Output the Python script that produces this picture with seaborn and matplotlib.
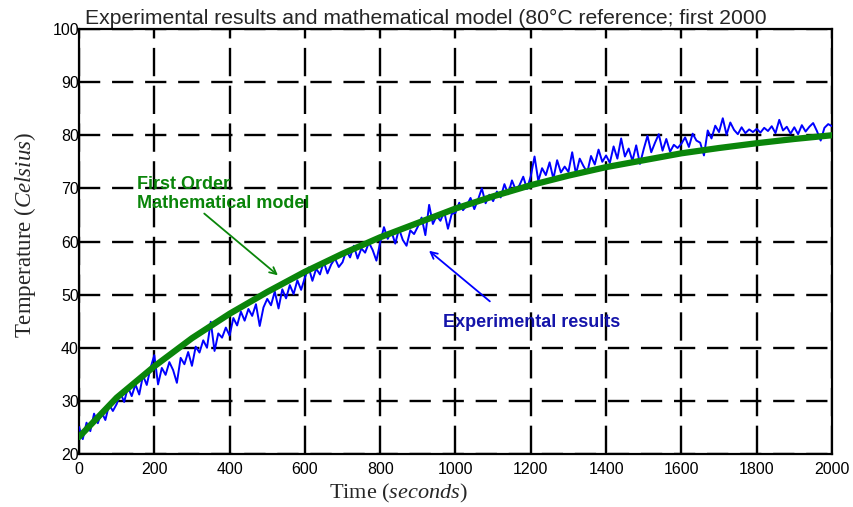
import numpy as np
import pandas as pd
import matplotlib
matplotlib.use("Agg")
from matplotlib import pyplot as plt
import seaborn as sns

# model curve, read every 100 s
model_time = list(range(0, 2001, 100))
model_temp = [23.2, 30.6, 36.5, 41.8, 46.4, 50.5, 54.3, 57.7, 60.8, 63.5, 66.2,
              68.5, 70.6, 72.4, 74.0, 75.3, 76.6, 77.6, 78.5, 79.3, 80.0]

# experimental trace, read every 10 s
exp_time = list(range(0, 2001, 10))
exp_temp = [
    25.1, 22.8, 25.9, 24.3, 27.6, 25.8, 27.9, 26.4, 29.3, 28.1,
    29.4, 31.5, 29.8, 32.6, 30.9, 33.1, 31.2, 34.8, 33.0, 36.2,
    38.6, 33.1, 36.2, 34.9, 37.3, 35.8, 33.4, 38.1, 36.9, 39.2,
    36.6, 40.2, 39.1, 41.4, 40.0, 44.9, 39.4, 42.7, 41.9, 43.8,
    42.3, 45.6, 44.2, 46.8, 45.1, 47.3, 46.0, 48.2, 44.1, 47.6,
    49.2, 48.0, 50.6, 47.4, 51.0, 49.3, 51.8, 50.1, 52.7, 50.9,
    53.2, 55.1, 52.6, 54.9, 53.8, 56.2, 54.0, 55.7, 56.8, 55.2,
    56.1, 58.3, 57.0, 59.2, 56.8, 58.7, 57.9, 59.8, 58.4, 56.4,
    59.8, 62.7, 60.5, 61.9, 59.6, 62.4, 60.3, 59.2, 62.1, 61.4,
    62.8, 64.5, 61.2, 66.9, 63.3, 64.8, 63.9, 65.6, 62.4, 65.2,
    65.4, 67.3, 65.9, 66.8, 68.2, 66.1, 67.9, 70.0, 67.2, 68.8,
    67.6, 69.4, 68.3, 70.8, 68.9, 71.5, 69.7, 70.6, 72.2, 69.9,
    72.3, 76.0, 71.4, 73.8, 72.5, 74.9, 71.8, 75.3, 73.0, 74.1,
    73.1, 76.8, 72.7, 75.6, 74.2, 73.0, 76.1, 74.5, 77.3, 75.0,
    76.2, 74.8, 77.9, 75.6, 79.4, 76.0, 77.5, 75.2, 78.1, 74.6,
    77.4, 79.9, 76.8, 78.6, 80.2, 77.1, 79.3, 76.9, 78.2, 77.6,
    78.4, 79.6, 77.8, 80.3, 79.0, 78.6, 76.2, 80.9, 79.4, 81.8,
    80.6, 83.2, 80.1, 82.4, 81.0, 80.2, 81.5, 80.4, 81.1, 80.6,
    81.2, 80.5, 81.4, 80.8, 81.7, 80.4, 82.9, 80.9, 81.6, 80.3,
    81.5, 80.2, 81.9, 80.7, 81.6, 82.3, 80.8, 79.0, 81.4, 82.1,
    81.7,
]

x_ticks = list(range(0, 2001, 200))
y_ticks = list(range(20, 101, 10))

title_text = "Experimental results and mathematical model (80°C reference; first 2000\nseconds)"

sns.set_style("white")
plt.rcParams["font.family"] = ["Liberation Sans", "DejaVu Sans"]
plt.rcParams["mathtext.fontset"] = "custom"
plt.rcParams["mathtext.rm"] = "Liberation Serif"
plt.rcParams["mathtext.it"] = "Liberation Serif:italic"

exp_df = pd.DataFrame({"time": exp_time, "temp": exp_temp})
model_df = pd.DataFrame({"time": model_time, "temp": model_temp})

fig = plt.figure(figsize=(8.54, 5.07), dpi=100)
ax = fig.add_axes([0.0925, 0.1045, 0.8817, 0.8383])
ax.set_facecolor("white")

sns.lineplot(data=exp_df, x="time", y="temp", color="#0000ff", linewidth=1.4, ax=ax, zorder=3)
sns.lineplot(data=model_df, x="time", y="temp", color="#0a850a", linewidth=4.5, ax=ax, zorder=4)

ax.set_xlim(0, 2000)
ax.set_ylim(20, 100)
ax.set_xticks(x_ticks)
ax.set_yticks(y_ticks)
ax.tick_params(axis="x", length=0, pad=6, labelsize=11.5, colors="black")
ax.tick_params(axis="y", length=0, pad=0, labelsize=11.5, colors="black")

# dashed black grid, longer dashes on the vertical lines
ax.grid(axis="y", color="black", linewidth=1.7, linestyle=(0, (9.0, 5.0)))
ax.grid(axis="x", color="black", linewidth=1.7, linestyle=(0, (12.0, 4.0)))
ax.set_axisbelow(True)
for side in ["left", "right", "top", "bottom"]:
    ax.spines[side].set_visible(True)
    ax.spines[side].set_color("black")
    ax.spines[side].set_linewidth(1.6)

ax.set_xlabel(r"Time ($\mathit{seconds}$)", family="Liberation Serif", fontsize=16)
ax.set_ylabel(r"Temperature ($\mathit{Celsius}$)", family="Liberation Serif", fontsize=16.5)
# labels sit a bit off-centre in the original
ax.xaxis.set_label_coords(0.4236, -0.066)
ax.yaxis.set_label_coords(-0.054, 0.515)

ax.annotate("", xy=(534, 53.3), xytext=(327, 65.6),
            arrowprops=dict(arrowstyle="->", color="#0a850a", lw=1.3, mutation_scale=12))
ax.text(154, 72.4, "First Order\nMathematical model", color="#0a850a", fontsize=13,
        fontweight="bold", va="top", ha="left", zorder=5)

ax.annotate("", xy=(924, 58.6), xytext=(1097, 48.4),
            arrowprops=dict(arrowstyle="->", color="#0000ff", lw=1.3, mutation_scale=12))
ax.text(967, 46.4, "Experimental results", color="#1414aa", fontsize=13,
        fontweight="bold", va="top", ha="left", zorder=5)

# title wraps onto a second line that sits behind the axes
fig.text(85 / 854, 1 - 9 / 507, title_text, fontsize=15.2, ha="left", va="top",
         linespacing=1.0, zorder=-1)

fig.savefig("out.png", dpi=100)
